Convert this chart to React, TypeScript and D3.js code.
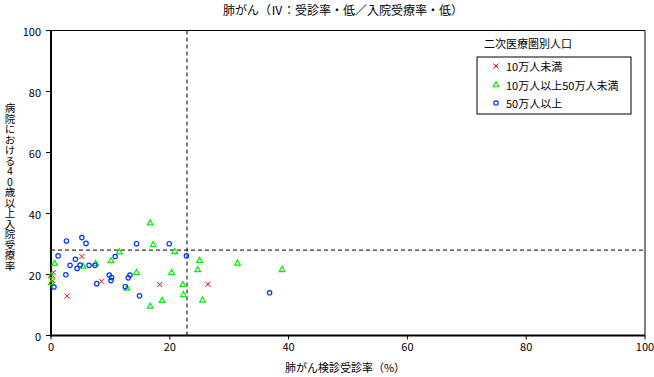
import React from "react";
import * as d3 from "d3";

const title = "肺がん（Ⅳ：受診率・低／入院受療率・低）";
const xTitle = "肺がん検診受診率（%）";
const yTitle = "病院における40歳以上入院受療率";
const legendTitle = "二次医療圏別人口";
const seriesNames = ["10万人未満", "10万人以上50万人未満", "50万人以上"];
const xTicks = [0, 20, 40, 60, 80, 100];
const yTicks = [0, 20, 40, 60, 80, 100];
const xRefValue = 22.9;
const yRefValue = 28.0;

// 10万人未満
const smallX = [5.2, 0.4, 0.3, 8.5, 2.7, 18.3, 26.4];
const smallY = [25.9, 20.6, 18.0, 17.8, 12.9, 16.7, 16.8];

// 10万人以上50万人未満
const midX = [0.6, 0.05, 0.05, 5.4, 7.5, 10.1, 11.5, 16.7, 17.2, 20.8, 14.4, 20.3, 12.8, 18.7, 16.7, 25.0, 31.4, 24.7, 22.2, 22.3, 25.5, 38.9];
const midY = [23.7, 19.7, 17.4, 22.8, 23.7, 24.6, 27.5, 37.0, 29.9, 27.6, 20.7, 20.7, 15.6, 11.6, 9.7, 24.7, 23.8, 21.7, 16.8, 13.5, 11.7, 21.7];

// 50万人以上
const largeX = [2.6, 5.2, 5.9, 1.2, 4.1, 3.2, 4.4, 4.9, 6.4, 7.4, 10.8, 2.5, 9.8, 10.2, 10.1, 7.7, 0.5, 14.4, 19.9, 13.3, 13.0, 12.5, 14.9, 22.8, 36.8];
const largeY = [31.0, 32.1, 30.2, 26.1, 25.0, 23.0, 22.0, 23.1, 23.0, 23.0, 25.9, 19.9, 19.8, 19.0, 18.0, 17.0, 15.9, 30.1, 30.1, 19.8, 18.9, 16.0, 13.0, 26.1, 14.0];

const W = 654;
const H = 377;
const left = 51;
const right = 645;
const top = 30.5;
const bottom = 335.5;
const font = "'Noto Sans CJK JP', sans-serif";

const RED = "#ff0000";
const GREEN = "#00ee00";
const BLUE = "#0033ff";

function Marker({ kind, x, y }: { kind: number; x: number; y: number }) {
  if (kind === 0) {
    const s = 2.5;
    return (
      <path
        d={`M${x - s},${y - s}L${x + s},${y + s}M${x - s},${y + s}L${x + s},${y - s}`}
        stroke={RED}
        strokeWidth={1}
        fill="none"
      />
    );
  }
  if (kind === 1) {
    const s = 2.8;
    return (
      <path
        d={`M${x},${y - s}L${x + s},${y + s * 0.8}L${x - s},${y + s * 0.8}Z`}
        stroke={GREEN}
        strokeWidth={1.2}
        fill="none"
      />
    );
  }
  return <circle cx={x} cy={y} r={2.2} stroke={BLUE} strokeWidth={1.2} fill="none" />;
}

export default function App() {
  const x = d3.scaleLinear().domain([0, 100]).range([left, right]);
  const y = d3.scaleLinear().domain([0, 100]).range([bottom, top]);

  const series = [
    { xs: smallX, ys: smallY },
    { xs: midX, ys: midY },
    { xs: largeX, ys: largeY },
  ];

  const yParts = yTitle.split(/(\d+)/).filter((s) => s.length > 0);

  const legX = 477;
  const legY = 57;
  const legW = 154;
  const legH = 57;

  return (
    <svg
      width={W}
      height={H}
      style={{ position: "absolute", left: 0, top: 0, background: "#fff" }}
      fontFamily={font}
    >
      <rect x={0} y={0} width={W} height={H} fill="#fff" />
      <text x={343} y={9} fontSize={12} textAnchor="middle" dominantBaseline="central">
        {title}
      </text>

      {/* frame */}
      <line x1={left} x2={right} y1={top} y2={top} stroke="#000" strokeWidth={1} />
      <line x1={right} x2={right} y1={top} y2={bottom} stroke="#000" strokeWidth={1} />

      {/* reference lines */}
      <line
        x1={x(xRefValue)}
        x2={x(xRefValue)}
        y1={top}
        y2={bottom}
        stroke="#000"
        strokeWidth={1}
        strokeDasharray="4,3"
      />
      <line
        x1={left}
        x2={right}
        y1={y(yRefValue)}
        y2={y(yRefValue)}
        stroke="#000"
        strokeWidth={1}
        strokeDasharray="4,3"
      />

      {/* axes */}
      <line x1={left} x2={left} y1={top} y2={bottom + 1} stroke="#000" strokeWidth={2} />
      <line x1={left - 1} x2={right} y1={bottom} y2={bottom} stroke="#000" strokeWidth={2} />
      {xTicks.map((t) => (
        <g key={"x" + t}>
          <line x1={x(t)} x2={x(t)} y1={bottom} y2={bottom + 4} stroke="#000" strokeWidth={1} />
          <text x={x(t)} y={346} fontSize={11} textAnchor="middle" dominantBaseline="central">
            {t}
          </text>
        </g>
      ))}
      {yTicks.map((t) => (
        <g key={"y" + t}>
          <line x1={left - 5} x2={left} y1={y(t)} y2={y(t)} stroke="#000" strokeWidth={1} />
          <text x={41} y={y(t)} fontSize={11} textAnchor="end" dominantBaseline="central">
            {t}
          </text>
        </g>
      ))}

      <text x={345} y={367} fontSize={11} textAnchor="middle" dominantBaseline="central">
        {xTitle}
      </text>
      <text
        x={10}
        y={187}
        fontSize={10.5}
        textAnchor="middle"
        style={{ writingMode: "vertical-rl", textOrientation: "upright" } as any}
      >
        {yParts.map((p, i) =>
          /\d/.test(p) ? (
            <tspan key={i} style={{ textCombineUpright: "all" } as any}>
              {p}
            </tspan>
          ) : (
            <tspan key={i}>{p}</tspan>
          )
        )}
      </text>

      {/* points */}
      {series.map((s, k) =>
        s.xs.map((v, i) => <Marker key={k + "-" + i} kind={k} x={x(v)} y={y(s.ys[i])} />)
      )}

      {/* legend */}
      <text x={484} y={43} fontSize={11} dominantBaseline="central">
        {legendTitle}
      </text>
      <rect x={legX} y={legY} width={legW} height={legH} fill="#fff" stroke="#000" strokeWidth={1} />
      {seriesNames.map((name, k) => {
        const cy = legY + 9 + k * 18.5;
        return (
          <g key={"lg" + k}>
            <Marker kind={k} x={496} y={cy} />
            <text x={506} y={cy} fontSize={11} dominantBaseline="central">
              {name}
            </text>
          </g>
        );
      })}
    </svg>
  );
}
